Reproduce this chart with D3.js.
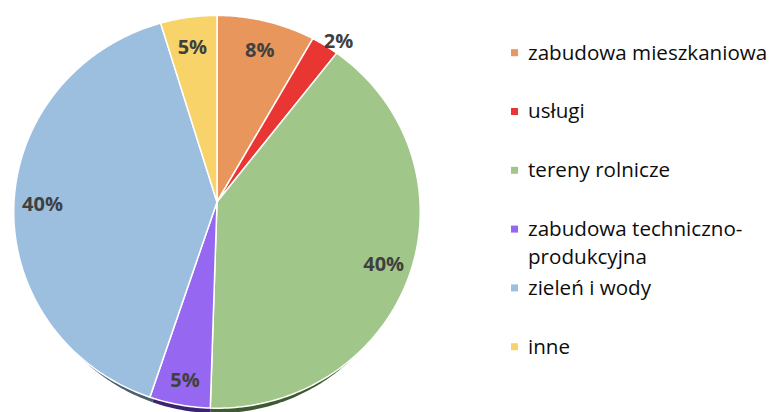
<!DOCTYPE html>
<html>
<head>
<meta charset="utf-8">
<script src="https://cdn.jsdelivr.net/npm/d3@7"></script>
<style>
    body { margin: 0; background: #fff; }
    svg { display: block; }
</style>
</head>
<body>
<script>
// data
var categories = ["zabudowa mieszkaniowa", "usługi", "tereny rolnicze", "zabudowa techniczno-produkcyjna", "zieleń i wody", "inne"];
var values = [8.2, 2.3, 40.0, 4.6, 40.2, 4.7];
var colors = ["#E8965C", "#EA3633", "#A1C68A", "#9668F1", "#9CBFE0", "#F7D36A"];
var sideColors = ["#7a4a28", "#7a1a18", "#3f5a31", "#3a2470", "#4a5f70", "#7a6630"];

var width = 771, height = 412;

// pie geometry (slightly tilted disc, seen in perspective)
var cx = 217, cy = 202;
var K = 203;          // horizontal radius in px
var cosA = 0.965;     // tilt
var s = 0.05;         // perspective strength
var labelR = 0.86;

var svg = d3.select("body").append("svg")
    .attr("width", width)
    .attr("height", height);

var project = function (a, r, dy, kx) {
    var x = r * Math.sin(a);
    var y = -r * Math.cos(a);
    var f = 1 / (1 - s * y);
    return [cx + x * K * f * (kx || 1), cy + y * cosA * K * f + (dy || 0)];
};

var slicePoints = function (d, dy, kx) {
    var pts = [project(0, 0, dy, kx)];
    var n = Math.max(2, Math.ceil((d.endAngle - d.startAngle) * 60));
    for (var i = 0; i <= n; i++) {
        var a = d.startAngle + (d.endAngle - d.startAngle) * i / n;
        pts.push(project(a, 1, dy, kx));
    }
    return pts;
};

var pie = d3.pie().sort(null).value(function (d) { return d; });
var arcs = pie(values);
var line = d3.line();

// side of the disc (dark rim at the bottom)
svg.append("g").selectAll("path")
    .data(arcs)
    .enter().append("path")
    .attr("d", function (d) { return line(slicePoints(d, 5, 0.962)) + "Z"; })
    .style("fill", function (d, i) { return sideColors[i]; });

// top faces
svg.append("g").selectAll("path")
    .data(arcs)
    .enter().append("path")
    .attr("d", function (d) { return line(slicePoints(d)) + "Z"; })
    .style("fill", function (d, i) { return colors[i]; })
    .style("stroke", "#fff")
    .style("stroke-width", 1.5)
    .style("stroke-linejoin", "round");

// percent labels
var total = d3.sum(values);
var labelPos = function (d) {
    var small = d.value / total < 0.03;
    var mid = (d.startAngle + d.endAngle) / 2;
    return project(mid + (small ? 0.03 : 0), small ? 1.08 : labelR, 4);
};
svg.append("g").selectAll("text")
    .data(arcs)
    .enter().append("text")
    .attr("x", function (d) { return labelPos(d)[0]; })
    .attr("y", function (d) { return labelPos(d)[1]; })
    .attr("text-anchor", "middle")
    .attr("dominant-baseline", "central")
    .style("font-family", "'Open Sans', sans-serif")
    .style("font-weight", "bold")
    .style("font-size", "20px")
    .style("fill", "#404040")
    .text(function (d) { return Math.round(d.value / total * 100) + "%"; });

// legend
var legendX = 511, legendY0 = 52.7, legendStep = 58.8;
var legend = svg.append("g").selectAll("g")
    .data(categories)
    .enter().append("g")
    .attr("transform", function (d, i) { return "translate(" + legendX + "," + (legendY0 + i * legendStep) + ")"; });

legend.append("rect")
    .attr("x", 0)
    .attr("y", -3.5)
    .attr("width", 7)
    .attr("height", 7)
    .style("fill", function (d, i) { return colors[i]; });

legend.append("text")
    .attr("x", 17)
    .attr("y", 6.8)
    .style("font-family", "'Open Sans', sans-serif")
    .style("font-size", "20.6px")
    .style("fill", "#0d0d0d")
    .each(function (d) {
        var parts = d.indexOf("-") > 0 ? [d.slice(0, d.indexOf("-") + 1), d.slice(d.indexOf("-") + 1)] : [d];
        var t = d3.select(this);
        parts.forEach(function (p, j) {
            t.append("tspan").attr("x", 17).attr("dy", j === 0 ? 0 : 28.5).text(p);
        });
    });
</script>
</body>
</html>
